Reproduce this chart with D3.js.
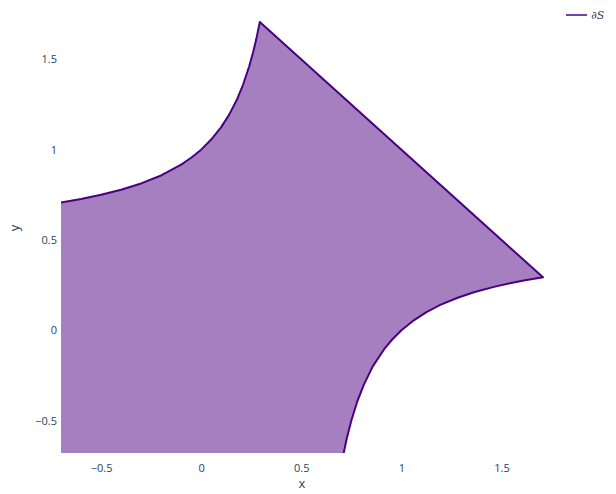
<html>
<head>
<script src="https://cdn.jsdelivr.net/npm/d3@7"></script>
<style>
  body { margin: 0; background: #fff; }
  text { font-family: "Open Sans", sans-serif; fill: #2a3f5f; }
</style>
</head>
<body>
<svg id="vis"></svg>
<script>
// upper boundary curve (left branch)
const upperX = [-0.7, -0.6, -0.5, -0.4, -0.3, -0.2, -0.1, -0.05, 0, 0.05, 0.1, 0.14, 0.18, 0.21, 0.24, 0.26, 0.275, 0.2929];
const upperY = [0.708, 0.727, 0.75, 0.778, 0.813, 0.857, 0.917, 0.955, 1.0, 1.056, 1.125, 1.194, 1.281, 1.362, 1.462, 1.542, 1.611, 1.707];
// lower boundary curve (right branch), from the tip downwards
const lowerX = [1.707, 1.611, 1.542, 1.462, 1.362, 1.281, 1.194, 1.125, 1.056, 1.0, 0.955, 0.917, 0.857, 0.813, 0.778, 0.75, 0.727, 0.708];
const lowerY = [0.293, 0.275, 0.26, 0.24, 0.21, 0.18, 0.14, 0.1, 0.05, 0, -0.05, -0.1, -0.2, -0.3, -0.4, -0.5, -0.6, -0.7];
// corner of the filled set outside the view
const cornerX = [-0.7];
const cornerY = [-0.7];

const xTicks = [-0.5, 0, 0.5, 1, 1.5];
const yTicks = [-0.5, 0, 0.5, 1, 1.5];
const legendLabel = '∂S';

const width = 616, height = 494;
const plotLeft = 61, plotRight = 543, plotTop = 22, plotBottom = 453;
const lineColor = '#4b0082';

let svg = d3.select('#vis').attr('width', width).attr('height', height);

let xscale = d3.scaleLinear().domain([-0.7, 1.7071]).range([plotLeft, plotRight]);
let yscale = d3.scaleLinear().domain([-0.68, 1.7071]).range([plotBottom, plotTop]);

svg.append('clipPath').attr('id', 'clip')
  .append('rect')
  .attr('x', plotLeft).attr('y', plotTop - 2)
  .attr('width', plotRight - plotLeft + 2).attr('height', plotBottom - plotTop + 2);

let boundary = upperX.map((x, i) => [x, upperY[i]])
  .concat(lowerX.map((x, i) => [x, lowerY[i]]));
let region = boundary.concat(cornerX.map((x, i) => [x, cornerY[i]]));

let line = d3.line().x(d => xscale(d[0])).y(d => yscale(d[1]));

let g = svg.append('g').attr('clip-path', 'url(#clip)');

g.append('path')
  .attr('d', line(region) + 'Z')
  .attr('fill', lineColor)
  .attr('fill-opacity', 0.5)
  .attr('stroke', 'none');

g.append('path')
  .attr('d', line(boundary))
  .attr('fill', 'none')
  .attr('stroke', lineColor)
  .attr('stroke-width', 2)
  .attr('stroke-linejoin', 'round');

// axes (labels only, no lines)
let xAxis = svg.append('g')
  .attr('transform', `translate(0,${plotBottom})`)
  .call(d3.axisBottom(xscale).tickValues(xTicks).tickSize(0).tickPadding(11)
    .tickFormat(d => d3.format('')(d).replace('-', '−')));
xAxis.select('.domain').remove();
xAxis.selectAll('text').style('font-size', '11px').attr('fill', '#2a3f5f');

let yAxis = svg.append('g')
  .attr('transform', `translate(${plotLeft},0)`)
  .call(d3.axisLeft(yscale).tickValues(yTicks).tickSize(0).tickPadding(4)
    .tickFormat(d => d3.format('')(d).replace('-', '−')));
yAxis.select('.domain').remove();
yAxis.selectAll('text').style('font-size', '11px').attr('fill', '#2a3f5f');

svg.append('text')
  .attr('x', 302).attr('y', 488)
  .attr('text-anchor', 'middle')
  .style('font-size', '13px')
  .text('x');

svg.append('text')
  .attr('transform', 'translate(19,228) rotate(-90)')
  .attr('text-anchor', 'middle')
  .style('font-size', '13px')
  .text('y');

// legend
svg.append('line')
  .attr('x1', 566).attr('x2', 587)
  .attr('y1', 15).attr('y2', 15)
  .attr('stroke', lineColor)
  .attr('stroke-opacity', 0.75)
  .attr('stroke-width', 2);
svg.append('text')
  .attr('x', 591).attr('y', 19)
  .style('font-family', '"DejaVu Serif", serif')
  .style('font-style', 'italic')
  .style('font-size', '11px')
  .text(legendLabel);
</script>
</body>
</html>
